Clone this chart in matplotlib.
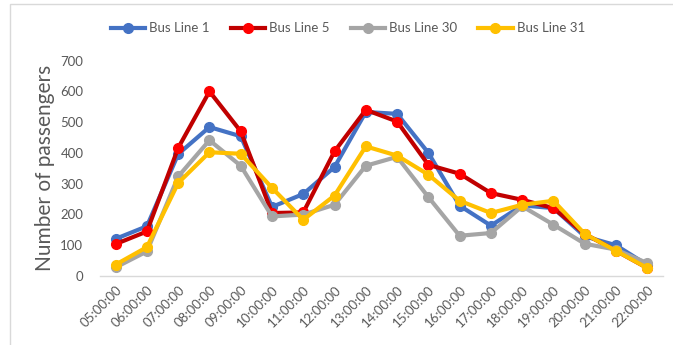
import matplotlib
matplotlib.use("Agg")
import matplotlib.pyplot as plt
from matplotlib.patches import Rectangle

# hours of the day
hours = ["05:00:00", "06:00:00", "07:00:00", "08:00:00", "09:00:00", "10:00:00",
         "11:00:00", "12:00:00", "13:00:00", "14:00:00", "15:00:00", "16:00:00",
         "17:00:00", "18:00:00", "19:00:00", "20:00:00", "21:00:00", "22:00:00"]

# passengers per line
line1 = [120, 161, 396, 484, 454, 224, 266, 354, 533, 527, 400, 228, 163, 229, 220, 128, 99, 35]
line5 = [103, 144, 416, 600, 470, 204, 206, 405, 540, 502, 361, 332, 269, 247, 220, 136, 81, 25]
line30 = [27, 79, 323, 441, 358, 193, 199, 231, 358, 387, 256, 130, 139, 226, 166, 104, 85, 41]
line31 = [36, 93, 302, 402, 397, 286, 182, 261, 421, 391, 329, 244, 204, 231, 244, 136, 81, 25]

names = ["Bus Line 1", "Bus Line 5", "Bus Line 30", "Bus Line 31"]
line_cols = ["#4472C4", "#C00000", "#A5A5A5", "#FFC000"]
mark_cols = ["#4472C4", "#FF0000", "#A5A5A5", "#FFC000"]

plt.rcParams['font.family'] = ['Lato', 'DejaVu Sans']
txt = "#595959"

fig = plt.figure(figsize=(6.73, 3.45), dpi=100)
ax = fig.add_axes([0.1486, 0.2009, 0.985 - 0.1486, 0.824 - 0.2009])

x = range(len(hours))
for vals, name, lc, mc in zip([line1, line5, line30, line31], names, line_cols, mark_cols):
    ax.plot(x, vals, color=lc, linewidth=3, marker='o', markersize=7,
            markerfacecolor=mc, markeredgecolor=mc, label=name)

ax.set_xlim(-0.5, len(hours) - 0.5)
ax.set_ylim(0, 700)
ax.set_yticks(range(0, 701, 100))
ax.set_xticks(list(x))
ax.set_xticklabels(hours, rotation=45, ha='right', va='top', rotation_mode='anchor')
ax.tick_params(axis='both', length=0, labelsize=9.5, colors=txt)
ax.tick_params(axis='x', pad=6)
ax.tick_params(axis='y', pad=12)

for s in ['top', 'right', 'left']:
    ax.spines[s].set_visible(False)
ax.spines['bottom'].set_color('#D9D9D9')
ax.spines['bottom'].set_linewidth(1)

ax.set_ylabel("Number of passengers", fontsize=15, color=txt, labelpad=4)

leg = fig.legend(loc='center', bbox_to_anchor=(0.517, 0.918), ncol=4, frameon=False,
                 fontsize=9.5, handlelength=2.6, columnspacing=1.6, handletextpad=0.3)
for t in leg.get_texts():
    t.set_color(txt)

# chart area border (cut off on the right and bottom)
fig.patches.append(Rectangle((10 / 673, -0.1), 1.2, (345 - 4) / 345 + 0.1,
                             transform=fig.transFigure, fill=False,
                             edgecolor='#D9D9D9', linewidth=1))

fig.savefig("out.png", dpi=100)
